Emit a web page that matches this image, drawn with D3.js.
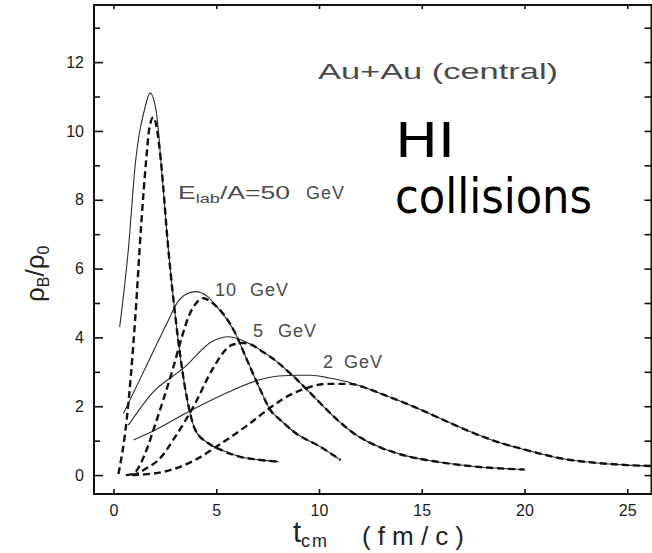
<!DOCTYPE html>
<html>
<head>
<meta charset="utf-8">
<script src="https://cdn.jsdelivr.net/npm/d3@7"></script>
<style>
  html, body { margin: 0; padding: 0; background: #fff; }
  svg { display: block; }
</style>
</head>
<body>
<div id="chart"></div>
<script>
// baryon density vs time, Au+Au central, four beam energies
// solid = thin curve, dashed = thick curve; both share the falling tail

const xTicks = [0, 5, 10, 15, 20, 25];
const yTicks = [0, 2, 4, 6, 8, 10, 12];

// 50 GeV
const solid50 = [[0.3, 4.3], [0.72, 6.54], [1.08, 9.16], [1.26, 9.94], [1.5, 10.6], [1.78, 11.1], [2.07, 10.6], [2.2, 9.9]];
const dashed50 = [[0.24, 0.03], [0.64, 1.6], [1.05, 4.5], [1.35, 7.3], [1.59, 9.16], [1.75, 10.1], [1.94, 10.4], [2.1, 10.1]];
const fall50 = [[2.3, 9.16], [2.67, 6.54], [3.03, 4.5], [3.65, 2.0], [3.98, 1.31], [4.6, 0.93], [5.2, 0.74], [6.17, 0.53], [7.0, 0.45], [8.04, 0.39]];

// 10 GeV
const solid10 = [[0.48, 1.79], [1.5, 3.05], [2.67, 4.5], [3.08, 4.99], [3.5, 5.25], [3.98, 5.33], [4.55, 5.2]];
const dashed10 = [[0.6, 0.0], [0.95, 0.03], [1.2, 0.2], [1.54, 0.63], [2.1, 1.6], [2.87, 3.05], [3.33, 4.02], [3.65, 4.6], [4.0, 4.98], [4.38, 5.14], [4.7, 5.05]];
const fall10 = [[5.03, 4.89], [5.85, 4.21], [6.5, 3.34], [7.15, 2.47], [7.63, 1.89], [8.12, 1.6], [8.77, 1.26], [10.07, 0.82], [11.05, 0.44]];

// 5 GeV
const solid5 = [[0.72, 1.45], [1.86, 2.37], [3.49, 3.15], [4.79, 3.88], [5.6, 4.02], [6.25, 3.92]];
const dashed5 = [[0.9, 0.0], [1.21, 0.06], [1.6, 0.2], [2.19, 0.44], [3.0, 1.11], [3.98, 2.09], [4.79, 3.05], [5.76, 3.78], [6.3, 3.84]];
const fall5 = [[6.8, 3.76], [7.15, 3.63], [7.96, 3.29], [8.77, 2.86], [9.75, 2.28], [10.72, 1.7], [11.7, 1.21], [13.0, 0.8], [14.3, 0.55], [15.6, 0.4], [17.55, 0.25], [20.0, 0.16]];

// 2 GeV
const solid2 = [[0.97, 1.02], [2.0, 1.3], [3.49, 1.79], [5.44, 2.37], [7.06, 2.76], [8.04, 2.88], [9.0, 2.9], [9.6, 2.9], [10.5, 2.82], [11.37, 2.71]];
const dashed2 = [[0.9, 0.0], [1.5, 0.02], [2.0, 0.05], [2.67, 0.13], [3.98, 0.44], [5.11, 0.87], [6.41, 1.4], [7.72, 2.0], [8.5, 2.3], [9.26, 2.5], [10.4, 2.65], [11.5, 2.65]];
const fall2 = [[12.2, 2.55], [13.0, 2.37], [14.6, 1.99], [16.25, 1.55], [17.2, 1.3], [18.5, 1.0], [20.2, 0.71], [21.8, 0.48], [23.4, 0.36], [25.0, 0.29], [26.3, 0.26]];

const energyLabels = ["50", "10", "5", "2"];

const series = [
  { solid: solid50.concat(fall50), dashed: dashed50.concat(fall50) },
  { solid: solid10.concat(fall10), dashed: dashed10.concat(fall10) },
  { solid: solid5.concat(fall5),   dashed: dashed5.concat(fall5) },
  { solid: solid2.concat(fall2),   dashed: dashed2.concat(fall2) }
];

const W = 652, H = 553;
const margin = { top: 5, left: 94 };
const innerW = 557.5, innerH = 489;

const svg = d3.select("#chart").append("svg")
  .attr("width", W).attr("height", H)
  .style("font-family", "'Liberation Sans', Arial, sans-serif");

const g = svg.append("g").attr("transform", `translate(${margin.left},${margin.top})`);

const x = d3.scaleLinear().domain([-0.95, 26.18]).range([0, innerW]);
const y = d3.scaleLinear().domain([-0.55, 13.66]).range([innerH, 0]);

svg.append("defs").append("clipPath").attr("id", "clip")
  .append("rect").attr("width", innerW).attr("height", innerH);

// ── axes ─────────────────────────────────────────
function styleAxis(sel) {
  sel.select(".domain").remove();
  sel.selectAll(".tick line").attr("stroke", "#111").attr("stroke-width", 1.6);
  sel.selectAll(".tick text").attr("fill", "#1a1a1a").style("font-size", "16px");
}

g.append("g").attr("transform", `translate(0,${innerH})`)
  .call(d3.axisBottom(x).tickValues(xTicks).tickSize(-5).tickPadding(11).tickFormat(d3.format("d")))
  .call(styleAxis);

g.append("g")
  .call(d3.axisTop(x).tickValues(xTicks).tickSize(-4).tickFormat(""))
  .call(styleAxis);

g.append("g")
  .call(d3.axisLeft(y).tickValues(yTicks).tickSize(-9).tickPadding(10).tickFormat(d3.format("d")))
  .call(styleAxis);

g.append("g")
  .call(d3.axisLeft(y).tickValues(d3.range(1, 14, 2)).tickSize(-6).tickFormat(""))
  .call(styleAxis);

g.append("g").attr("transform", `translate(${innerW},0)`)
  .call(d3.axisRight(y).tickValues(d3.range(0, 14)).tickSize(-7).tickFormat(""))
  .call(styleAxis);

// frame
g.append("rect")
  .attr("width", innerW).attr("height", innerH)
  .attr("fill", "none").attr("stroke", "#111").attr("stroke-width", 2);

// ── curves ───────────────────────────────────────
const line = d3.line()
  .x(d => x(d[0]))
  .y(d => y(d[1]))
  .curve(d3.curveMonotoneX);

const curvesG = g.append("g").attr("clip-path", "url(#clip)");

curvesG.selectAll(".solid")
  .data(series)
  .join("path")
    .attr("class", "solid")
    .attr("d", d => line(d.solid))
    .attr("fill", "none")
    .attr("stroke", "#2a2a2a")
    .attr("stroke-width", 1.1);

curvesG.selectAll(".dashed")
  .data(series)
  .join("path")
    .attr("class", "dashed")
    .attr("d", d => line(d.dashed))
    .attr("fill", "none")
    .attr("stroke", "#111")
    .attr("stroke-width", 2.4)
    .attr("stroke-dasharray", "7,4");

// ── labels ───────────────────────────────────────
const labelColor = "#4a4a4a";

const e50 = svg.append("text")
  .attr("x", 178).attr("y", 199)
  .attr("fill", labelColor).style("font-size", "19px")
  .attr("textLength", 112).attr("lengthAdjust", "spacingAndGlyphs");
e50.append("tspan").text("E");
e50.append("tspan").attr("dy", 4).style("font-size", "13px").text("lab");
e50.append("tspan").attr("dy", -4).text(`/A=${energyLabels[0]}`);

svg.append("text")
  .attr("x", 306).attr("y", 199)
  .attr("fill", labelColor).style("font-size", "18px").style("letter-spacing", "1px")
  .text("GeV");

// [number x, GeV x, baseline]
const labelPos = [null, [215, 250, 296], [253, 278, 337], [323, 344, 368]];
energyLabels.slice(1).forEach((e, i) => {
  const p = labelPos[i + 1];
  const t = svg.append("text")
    .attr("y", p[2])
    .attr("fill", labelColor).style("font-size", "18px").style("letter-spacing", "1px");
  t.append("tspan").attr("x", p[0]).text(e);
  t.append("tspan").attr("x", p[1]).text("GeV");
});

svg.append("text")
  .attr("x", 318).attr("y", 79)
  .attr("fill", labelColor)
  .attr("textLength", 240).attr("lengthAdjust", "spacingAndGlyphs")
  .style("font-size", "22px")
  .text("Au+Au (central)");

svg.append("text")
  .attr("x", 395).attr("y", 157)
  .attr("fill", "#000")
  .attr("textLength", 60).attr("lengthAdjust", "spacingAndGlyphs")
  .style("font-family", "'Comic Sans MS', 'DejaVu Sans', sans-serif")
  .style("font-size", "48px")
  .text("HI");

svg.append("text")
  .attr("x", 395).attr("y", 213)
  .attr("fill", "#000")
  .attr("textLength", 197).attr("lengthAdjust", "spacingAndGlyphs")
  .style("font-family", "'Comic Sans MS', 'DejaVu Sans', sans-serif")
  .style("font-size", "48px")
  .text("collisions");

// x title: t_cm (fm/c)
const xt = svg.append("text")
  .attr("x", 293).attr("y", 542)
  .attr("fill", "#222").style("font-size", "29px");
xt.append("tspan").text("t");
xt.append("tspan").attr("dy", 5).style("font-size", "18px").style("letter-spacing", "2px").text("cm");

svg.append("text")
  .attr("x", 362).attr("y", 545)
  .attr("fill", "#222").style("font-size", "26px")
  .attr("textLength", 102).attr("lengthAdjust", "spacing")
  .text("(fm/c)");

// y title: rho_B / rho_0
const yt = svg.append("text")
  .attr("transform", "translate(44,302) rotate(-90)")
  .attr("fill", "#222").style("font-size", "26px");
yt.append("tspan").text("ρ");
yt.append("tspan").attr("dy", 5).style("font-size", "16px").text("B");
yt.append("tspan").attr("dy", -5).text("/ρ");
yt.append("tspan").attr("dy", 5).style("font-size", "16px").text("0");
</script>
</body>
</html>
